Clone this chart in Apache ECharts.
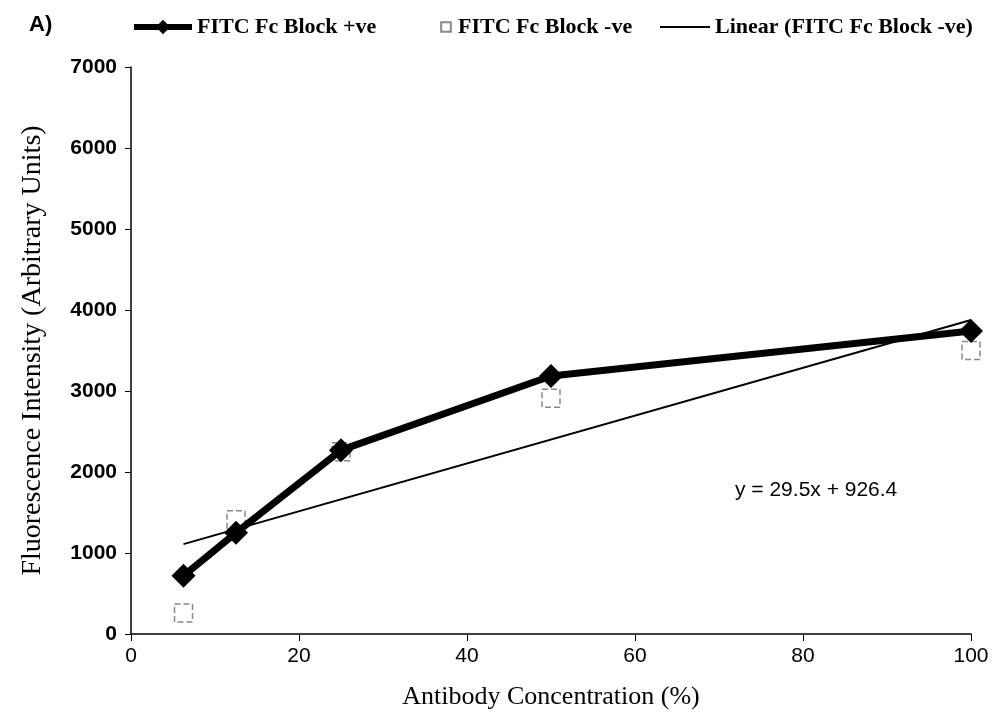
<!DOCTYPE html>
<html>
<head>
<meta charset="utf-8">
<script src="https://cdn.jsdelivr.net/npm/echarts@6/dist/echarts.min.js"></script>
<style>
  html, body { margin: 0; padding: 0; background: #fff; }
  #chart { width: 994px; height: 722px; }
</style>
</head>
<body>
<div id="chart"></div>
<script>
const concentrations = [6.25, 12.5, 25, 50, 100];
const blockPositive = [720, 1250, 2270, 3185, 3740];
const blockNegative = [260, 1410, 2250, 2910, 3500];
// trend line end points (y = 29.5x + 926.4)
const trendX = [6.25, 100];
const trendY = [1110, 3876];
const equationText = 'y = 29.5x + 926.4';
const xTicks = [0, 20, 40, 60, 80, 100];
const yTicks = [0, 1000, 2000, 3000, 4000, 5000, 6000, 7000];

const zip = (xs, ys) => xs.map((x, i) => [x, ys[i]]);

const legendText = { fontFamily: 'Liberation Serif', fontWeight: 'bold', fontSize: 22, color: '#000' };

const chart = echarts.init(document.getElementById('chart'));
chart.setOption({
  animation: false,
  backgroundColor: '#fff',
  title: {
    text: 'A)',
    left: 24,
    top: 9,
    textStyle: { fontFamily: 'Liberation Sans', fontWeight: 'bold', fontSize: 22, color: '#000' },
  },
  legend: [
    {
      left: 126,
      top: 11,
      itemWidth: 58,
      itemHeight: 18,
      itemGap: 4,
      textStyle: legendText,
      data: [{ name: 'FITC Fc Block +ve', lineStyle: { width: 6 } }],
    },
    {
      left: 434,
      top: 11,
      itemWidth: 14,
      itemHeight: 12,
      textStyle: legendText,
      data: [{ name: 'FITC Fc Block -ve', lineStyle: { width: 0, opacity: 0 } }],
    },
    {
      left: 655,
      top: 11,
      itemWidth: 50,
      itemHeight: 2,
      textStyle: legendText,
      icon: 'rect',
      itemStyle: { color: '#000' },
      data: ['Linear (FITC Fc Block -ve)'],
    },
  ],
  grid: { left: 131, right: 23, top: 67, bottom: 88 },
  xAxis: {
    type: 'value',
    min: xTicks[0],
    max: xTicks[xTicks.length - 1],
    interval: 20,
    name: 'Antibody Concentration (%)',
    nameLocation: 'middle',
    nameGap: 50,
    nameTextStyle: { fontFamily: 'Liberation Serif', fontSize: 26, color: '#000' },
    axisLine: { lineStyle: { color: '#000', width: 1.5 } },
    axisTick: { length: 7, lineStyle: { color: '#000' } },
    axisLabel: { margin: 12, fontFamily: 'Liberation Sans Narrow, Liberation Sans', fontSize: 21, color: '#000' },
    splitLine: { show: false },
  },
  yAxis: {
    type: 'value',
    min: yTicks[0],
    max: yTicks[yTicks.length - 1],
    interval: 1000,
    name: 'Fluorescence Intensity (Arbitrary Units)',
    nameLocation: 'middle',
    nameGap: 84,
    nameTextStyle: { fontFamily: 'Liberation Serif', fontSize: 28, color: '#000' },
    axisLine: { show: true, lineStyle: { color: '#000', width: 1.5 } },
    axisTick: { show: true, length: 6, lineStyle: { color: '#000' } },
    axisLabel: {
      margin: 14,
      fontFamily: 'Liberation Sans',
      fontWeight: 'bold',
      fontSize: 21,
      color: '#000',
      formatter: v => String(v),
    },
    splitLine: { show: false },
  },
  graphic: [{
    type: 'text',
    left: 735,
    top: 480,
    style: { text: equationText, fontFamily: 'Liberation Sans', fontSize: 21, fill: '#000' },
  }],
  series: [
    {
      name: 'Linear (FITC Fc Block -ve)',
      type: 'line',
      data: zip(trendX, trendY),
      showSymbol: false,
      symbol: 'none',
      lineStyle: { color: '#000', width: 2 },
      itemStyle: { color: '#000' },
      z: 2,
    },
    {
      name: 'FITC Fc Block -ve',
      type: 'line',
      data: zip(concentrations, blockNegative),
      symbol: 'rect',
      symbolSize: 18,
      lineStyle: { width: 0, opacity: 0 },
      itemStyle: { color: '#fff', borderColor: '#888', borderWidth: 1.5, borderType: 'dashed' },
      z: 3,
    },
    {
      name: 'FITC Fc Block +ve',
      type: 'line',
      data: zip(concentrations, blockPositive),
      symbol: 'diamond',
      symbolSize: 24,
      lineStyle: { color: '#000', width: 7 },
      itemStyle: { color: '#000', borderWidth: 0 },
      z: 4,
    },
  ],
});
</script>
</body>
</html>
